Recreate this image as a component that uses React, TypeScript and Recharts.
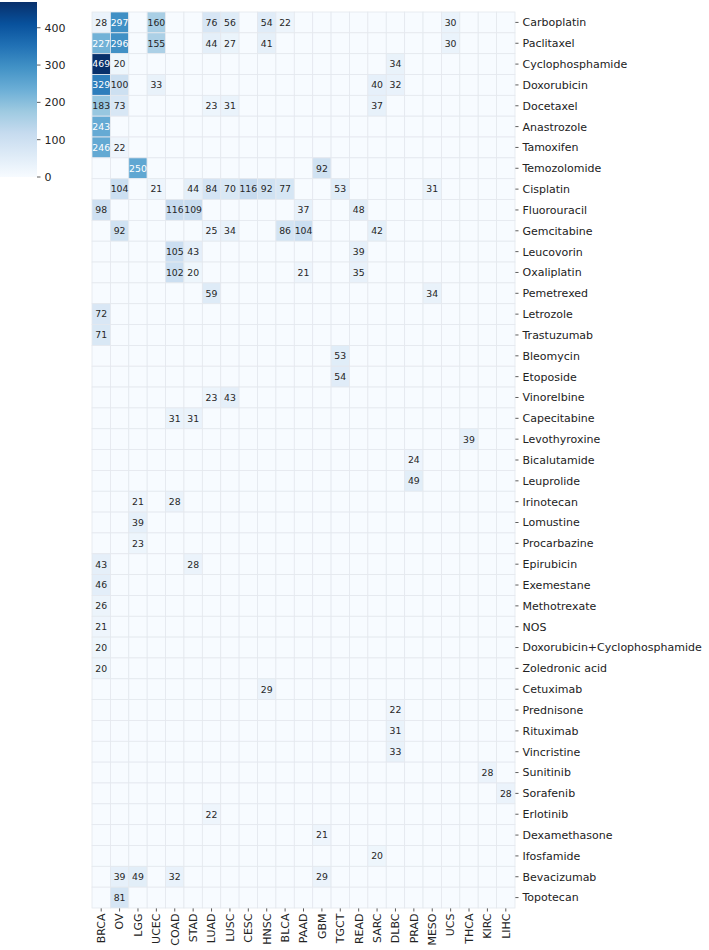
import React from 'react';
import { ScatterChart, Scatter, XAxis, YAxis, BarChart, Bar } from 'recharts';

// cancer types (columns) and drugs (rows)
const cancers = [
  'BRCA', 'OV', 'LGG', 'UCEC', 'COAD', 'STAD', 'LUAD', 'LUSC', 'CESC', 'HNSC', 'BLCA', 'PAAD',
  'GBM', 'TGCT', 'READ', 'SARC', 'DLBC', 'PRAD', 'MESO', 'UCS', 'THCA', 'KIRC', 'LIHC',
];

const drugs = [
  'Carboplatin', 'Paclitaxel', 'Cyclophosphamide', 'Doxorubicin', 'Docetaxel', 'Anastrozole',
  'Tamoxifen', 'Temozolomide', 'Cisplatin', 'Fluorouracil', 'Gemcitabine', 'Leucovorin',
  'Oxaliplatin', 'Pemetrexed', 'Letrozole', 'Trastuzumab', 'Bleomycin', 'Etoposide',
  'Vinorelbine', 'Capecitabine', 'Levothyroxine', 'Bicalutamide', 'Leuprolide', 'Irinotecan',
  'Lomustine', 'Procarbazine', 'Epirubicin', 'Exemestane', 'Methotrexate', 'NOS',
  'Doxorubicin+Cyclophosphamide', 'Zoledronic acid', 'Cetuximab', 'Prednisone', 'Rituximab',
  'Vincristine', 'Sunitinib', 'Sorafenib', 'Erlotinib', 'Dexamethasone', 'Ifosfamide',
  'Bevacizumab', 'Topotecan',
];

// patient counts per drug, only the non-empty cells (same order as drugs)
const drugCounts: [string, number][][] = [
  [['BRCA', 28], ['OV', 297], ['UCEC', 160], ['LUAD', 76], ['LUSC', 56], ['HNSC', 54], ['BLCA', 22], ['UCS', 30]],
  [['BRCA', 227], ['OV', 296], ['UCEC', 155], ['LUAD', 44], ['LUSC', 27], ['HNSC', 41], ['UCS', 30]],
  [['BRCA', 469], ['OV', 20], ['DLBC', 34]],
  [['BRCA', 329], ['OV', 100], ['UCEC', 33], ['SARC', 40], ['DLBC', 32]],
  [['BRCA', 183], ['OV', 73], ['LUAD', 23], ['LUSC', 31], ['SARC', 37]],
  [['BRCA', 243]],
  [['BRCA', 246], ['OV', 22]],
  [['LGG', 250], ['GBM', 92]],
  [['OV', 104], ['UCEC', 21], ['STAD', 44], ['LUAD', 84], ['LUSC', 70], ['CESC', 116], ['HNSC', 92], ['BLCA', 77], ['TGCT', 53], ['MESO', 31]],
  [['BRCA', 98], ['COAD', 116], ['STAD', 109], ['PAAD', 37], ['READ', 48]],
  [['OV', 92], ['LUAD', 25], ['LUSC', 34], ['BLCA', 86], ['PAAD', 104], ['SARC', 42]],
  [['COAD', 105], ['STAD', 43], ['READ', 39]],
  [['COAD', 102], ['STAD', 20], ['PAAD', 21], ['READ', 35]],
  [['LUAD', 59], ['MESO', 34]],
  [['BRCA', 72]],
  [['BRCA', 71]],
  [['TGCT', 53]],
  [['TGCT', 54]],
  [['LUAD', 23], ['LUSC', 43]],
  [['COAD', 31], ['STAD', 31]],
  [['THCA', 39]],
  [['PRAD', 24]],
  [['PRAD', 49]],
  [['LGG', 21], ['COAD', 28]],
  [['LGG', 39]],
  [['LGG', 23]],
  [['BRCA', 43], ['STAD', 28]],
  [['BRCA', 46]],
  [['BRCA', 26]],
  [['BRCA', 21]],
  [['BRCA', 20]],
  [['BRCA', 20]],
  [['HNSC', 29]],
  [['DLBC', 22]],
  [['DLBC', 31]],
  [['DLBC', 33]],
  [['KIRC', 28]],
  [['LIHC', 28]],
  [['LUAD', 22]],
  [['GBM', 21]],
  [['SARC', 20]],
  [['OV', 39], ['LGG', 49], ['COAD', 32], ['GBM', 29]],
  [['OV', 81]],
];

const colorbarTicks = [0, 100, 200, 300, 400];
const maxCount = 469;

// matplotlib "Blues"
const blues = ['#f7fbff', '#deebf7', '#c6dbef', '#9ecae1', '#6baed6', '#4292c6', '#2171b5', '#08519c', '#08306b'];

const hexToRgb = (h: string) => [1, 3, 5].map((i) => parseInt(h.slice(i, i + 2), 16));

const bluesRgb = (v: number) => {
  const t = Math.max(0, Math.min(1, v / maxCount)) * (blues.length - 1);
  const i = Math.min(Math.floor(t), blues.length - 2);
  const f = t - i;
  const a = hexToRgb(blues[i]);
  const b = hexToRgb(blues[i + 1]);
  return a.map((c, k) => Math.round(c + (b[k] - c) * f));
};

const bluesColor = (v: number) => {
  const [r, g, b] = bluesRgb(v);
  return `rgb(${r},${g},${b})`;
};

// same rule seaborn uses for annotation colour
const textColor = (v: number) => {
  const lin = bluesRgb(v).map((c) => {
    const s = c / 255;
    return s <= 0.03928 ? s / 12.92 : Math.pow((s + 0.055) / 1.055, 2.4);
  });
  const lum = 0.2126 * lin[0] + 0.7152 * lin[1] + 0.0722 * lin[2];
  return lum > 0.408 ? '#262626' : '#ffffff';
};

const cells = drugs.flatMap((drug, r) =>
  cancers.map((cancer, c) => {
    const hit = drugCounts[r].find(([name]) => name === cancer);
    return { x: c, y: r, drug, cancer, count: hit ? hit[1] : 0 };
  })
);
const labelled = cells.filter((d) => d.count > 0);

const W = 709;
const H = 950;
const PLOT_LEFT = 92;
const PLOT_TOP = 12;
const Y_AXIS_W = 194;
const X_AXIS_H = 42;
const cellW = (W - PLOT_LEFT - Y_AXIS_W) / cancers.length;
const cellH = (H - PLOT_TOP - X_AXIS_H) / drugs.length;
const FONT = 'DejaVu Sans';

const CellShape = (props: any) => {
  const { cx, cy, payload } = props;
  return (
    <rect
      x={cx - cellW / 2}
      y={cy - cellH / 2}
      width={cellW}
      height={cellH}
      fill={bluesColor(payload.count)}
      stroke="#e4e8ee"
      strokeWidth={0.8}
    />
  );
};

const LabelShape = (props: any) => {
  const { cx, cy, payload } = props;
  return (
    <text
      x={cx}
      y={cy}
      dy="0.36em"
      textAnchor="middle"
      fontSize={9.3}
      fontFamily={FONT}
      fill={textColor(payload.count)}
    >
      {payload.count}
    </text>
  );
};

const XTick = (props: any) => {
  const { x, y, payload } = props;
  return (
    <g transform={`translate(${x},${y})`}>
      <text transform="rotate(-90)" textAnchor="end" dy="0.35em" fontSize={11} fontFamily={FONT} fill="#222">
        {cancers[payload.value]}
      </text>
    </g>
  );
};

const Colorbar = () => (
  <BarChart
    width={80}
    height={190}
    data={[{ name: 'count', v: maxCount }]}
    margin={{ top: 2, right: 0, bottom: 13, left: 0 }}
    barCategoryGap={0}
  >
    <defs>
      <linearGradient id="bluesGrad" x1="0" y1="1" x2="0" y2="0">
        {blues.map((c, i) => (
          <stop key={c} offset={`${(i / (blues.length - 1)) * 100}%`} stopColor={c} />
        ))}
      </linearGradient>
    </defs>
    <XAxis dataKey="name" hide height={0} />
    <YAxis
      orientation="right"
      width={43}
      type="number"
      domain={[0, maxCount]}
      ticks={colorbarTicks}
      interval={0}
      axisLine={false}
      tickSize={3.5}
      tickMargin={4}
      tickLine={{ stroke: '#333', strokeWidth: 0.8 }}
      tick={{ fontSize: 11, fontFamily: FONT, fill: '#222' }}
    />
    <Bar dataKey="v" fill="url(#bluesGrad)" isAnimationActive={false} />
  </BarChart>
);

const App: React.FC = () => {
  return (
    <div style={{ position: 'absolute', left: 0, top: 0, width: W, height: H, background: '#fff' }}>
      <div style={{ position: 'absolute', left: 0, top: 0 }}>
        <ScatterChart width={W} height={H} margin={{ top: PLOT_TOP, right: 0, bottom: 0, left: PLOT_LEFT }}>
          <XAxis
            type="number"
            dataKey="x"
            domain={[-0.5, cancers.length - 0.5]}
            ticks={cancers.map((_, i) => i)}
            interval={0}
            height={X_AXIS_H}
            axisLine={false}
            tickSize={3.5}
            tickMargin={2}
            tickLine={{ stroke: '#333', strokeWidth: 0.8 }}
            tick={<XTick />}
          />
          <YAxis
            type="number"
            dataKey="y"
            orientation="right"
            reversed
            domain={[-0.5, drugs.length - 0.5]}
            ticks={drugs.map((_, i) => i)}
            interval={0}
            width={Y_AXIS_W}
            axisLine={false}
            tickSize={3.5}
            tickMargin={4}
            tickLine={{ stroke: '#333', strokeWidth: 0.8 }}
            tickFormatter={(i: number) => drugs[i]}
            tick={{ fontSize: 11, fontFamily: FONT, fill: '#222' }}
          />
          <Scatter data={cells} shape={<CellShape />} isAnimationActive={false} />
          <Scatter data={labelled} shape={<LabelShape />} isAnimationActive={false} />
        </ScatterChart>
      </div>
      <div style={{ position: 'absolute', left: 0, top: 0 }}>
        <Colorbar />
      </div>
    </div>
  );
};

export default App;
